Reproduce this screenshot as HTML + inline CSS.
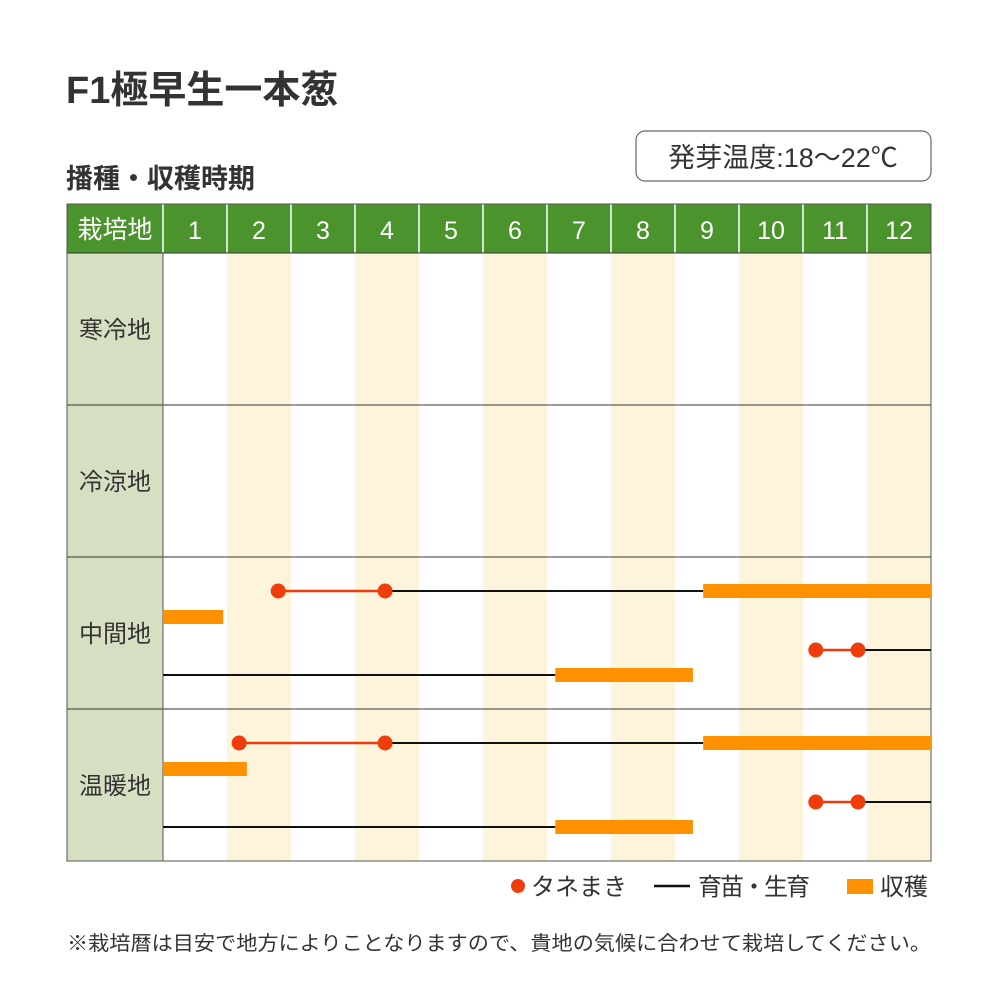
<!DOCTYPE html>
<html><head><meta charset="utf-8"><style>
body{margin:0;background:#fff;width:1000px;height:1000px;overflow:hidden}
svg text{font-family:"Liberation Sans","Noto Sans CJK JP",sans-serif}
</style></head><body>
<svg id="chart" width="1000" height="1000" xmlns="http://www.w3.org/2000/svg">
<text x="66" y="103" font-size="38" font-weight="bold" fill="#333">F1極早生一本葱</text>
<text x="66" y="188" font-size="27" font-weight="bold" fill="#333">播種・収穫時期</text>
<rect x="636" y="131" width="295" height="50" rx="9" fill="#fff" stroke="#666" stroke-width="1.2"/>
<text x="783" y="167" font-size="27" fill="#333" text-anchor="middle">発芽温度:18〜22℃</text>
<g id="grid"></g>
<g id="marks"></g>
<g>
<circle cx="518" cy="886" r="7" fill="#f03c0a"/>
<text x="531" y="895" font-size="24" fill="#333">タネまき</text>
<line x1="654" y1="886" x2="690" y2="886" stroke="#111" stroke-width="2.5"/>
<text x="698" y="895" font-size="24" fill="#333" textLength="112">育苗・生育</text>
<rect x="847" y="879" width="26" height="15" fill="#ff9000"/>
<text x="880" y="895" font-size="24" fill="#333">収穫</text>
</g>
<text x="67" y="950" font-size="20" fill="#333" textLength="864" lengthAdjust="spacingAndGlyphs">※栽培暦は目安で地方によりことなりますので、貴地の気候に合わせて栽培してください。</text>
</svg>
<script>
const months=["1","2","3","4","5","6","7","8","9","10","11","12"];
const regions=["寒冷地","冷涼地","中間地","温暖地"];
// each series: region index, lane (0..3), values in month units (0 = start of Jan)
const sowRegion=[2,2,3,3];
const sowLane=[0,2,0,2];
const sowStart=[1.8,10.2,1.19,10.2];
const sowEnd=[3.47,10.86,3.47,10.86];
const growRegion=[2,2,2,3,3,3];
const growLane=[0,2,3,0,2,3];
const growStart=[3.47,10.86,0,3.47,10.86,0];
const growEnd=[8.44,12,6.13,8.44,12,6.13];
const harvRegion=[2,2,2,3,3,3];
const harvLane=[0,1,3,0,1,3];
const harvStart=[8.44,0,6.13,8.44,0,6.13];
const harvEnd=[12,0.94,8.28,12,1.31,8.28];

const NS="http://www.w3.org/2000/svg";
const X0=163,MW=64,Y0=253,RH=152,LEFT=67,HT=204;
const xS=m=>X0+m*MW;
const laneY=(r,l)=>Y0+r*RH+[34,60,93,118][l];
function mk(tag,attrs,parent){const e=document.createElementNS(NS,tag);for(const k in attrs)e.setAttribute(k,attrs[k]);parent.appendChild(e);return e;}
const grid=document.getElementById('grid'),marks=document.getElementById('marks');
let hb=mk('rect',{x:LEFT,y:HT,width:931-LEFT,height:Y0-HT,fill:'#4b932c'},grid);


let ht=mk('text',{x:115,y:238,'font-size':25,fill:'#fff','text-anchor':'middle'},grid);ht.textContent='栽培地';


months.forEach((m,i)=>{
  const x=xS(i);
  const st=mk('rect',{x:x,y:Y0,width:MW,height:RH*4,fill:i%2?'#fdf4dc':'#fff'},grid);
  
  
  const ln=mk('line',{x1:x,y1:HT,x2:x,y2:Y0,stroke:'#fff','stroke-width':1.5},grid);
  
  
  const t=mk('text',{x:x+MW/2,y:239,'font-size':25,fill:'#fff','text-anchor':'middle'},grid);t.textContent=m;
  
  
});
regions.forEach((r,i)=>{
  const y=Y0+i*RH;
  const c=mk('rect',{x:LEFT,y:y,width:X0-LEFT,height:RH,fill:'#d7dfc2'},grid);
  
  
  const t=mk('text',{x:115,y:y+RH/2+9,'font-size':24,fill:'#333','text-anchor':'middle'},grid);t.textContent=r;
  
  
  const l=mk('line',{x1:LEFT,y1:y,x2:931,y2:y,stroke:'#333','stroke-width':1},grid);
  
  
});
const b=mk('rect',{x:LEFT,y:HT,width:931-LEFT,height:861-HT,fill:'none',stroke:'#555','stroke-width':1},grid);


const vl=mk('line',{x1:X0,y1:Y0,x2:X0,y2:861,stroke:'#555','stroke-width':1},grid);


growStart.forEach((s,i)=>{
  const y=laneY(growRegion[i],growLane[i]);
  const l=mk('line',{x1:xS(s),y1:y,x2:xS(growEnd[i]),y2:y,stroke:'#111','stroke-width':2},marks);
  
  
});
harvStart.forEach((s,i)=>{
  const y=laneY(harvRegion[i],harvLane[i]);
  const r=mk('rect',{x:xS(s),y:y-7,width:xS(harvEnd[i])-xS(s),height:14,fill:'#ff9000'},marks);
  
  
});
sowStart.forEach((s,i)=>{
  const y=laneY(sowRegion[i],sowLane[i]);
  const l=mk('line',{x1:xS(s),y1:y,x2:xS(sowEnd[i]),y2:y,stroke:'#f03c0a','stroke-width':2.5},marks);
  
  
  [s,sowEnd[i]].forEach(v=>{
    const c=mk('circle',{cx:xS(v),cy:y,r:7.5,fill:'#f03c0a'},marks);
    
    
  });
});
</script>
</body></html>
